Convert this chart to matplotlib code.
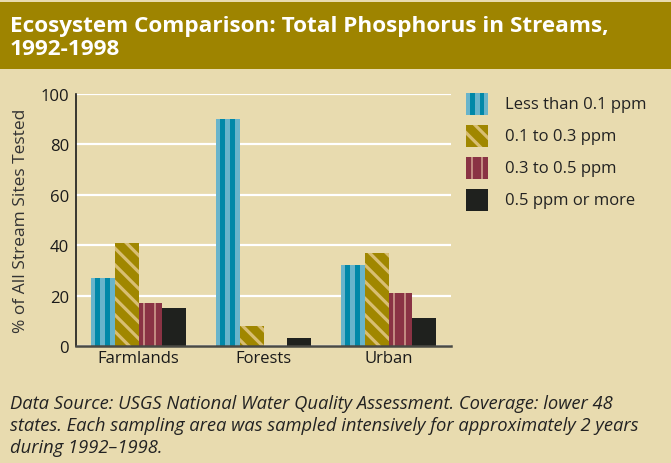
import matplotlib
matplotlib.use("Agg")
import matplotlib.pyplot as plt
import numpy as np
from matplotlib.patches import Rectangle

# data
categories = ["Farmlands", "Forests", "Urban"]
series_names = ["Less than 0.1 ppm", "0.1 to 0.3 ppm", "0.3 to 0.5 ppm", "0.5 ppm or more"]
less_01 = [27, 90, 32]
from_01_to_03 = [41, 8, 37]
from_03_to_05 = [17, 0, 21]
over_05 = [15, 3, 11]
y_ticks = [0, 20, 40, 60, 80, 100]

BG = "#E8DBAF"
BAR_OLIVE = "#A08700"
TITLE_BAR = "#9E8400"
HATCH_LIGHT = "#D8BE72"
TEAL_LIGHT = "#68B4CB"
TEAL_DARK = "#0088A8"
RED = "#8A3344"
RED_STRIPE = "#C28A80"
BLACK = "#1F211E"

plt.rcParams["font.family"] = ["Open Sans", "DejaVu Sans"]
plt.rcParams["hatch.linewidth"] = 2.3

fig = plt.figure(figsize=(6.71, 4.64), dpi=100)
fig.patch.set_facecolor(BG)

# title band
fig.patches.append(Rectangle((0, 1 - 70 / 464), 1, 67 / 464, transform=fig.transFigure,
                             facecolor=TITLE_BAR, edgecolor="none", zorder=0))
fig.text(10 / 671, 1 - 38 / 464, "Ecosystem Comparison: Total Phosphorus in Streams,\n1992-1998",
         color="white", fontsize=16.2, fontweight="bold", va="center", ha="left",
         linespacing=1.18)

ax = fig.add_axes([76 / 671, 1 - 347 / 464, 375 / 671, 252 / 464])
ax.set_facecolor(BG)

x = np.arange(len(categories))
w = 0.19
offsets = [-1.5 * w, -0.5 * w, 0.5 * w, 1.5 * w]

# blue: light bar with two dark vertical stripes
ax.bar(x + offsets[0], less_01, w, color=TEAL_LIGHT, linewidth=0, zorder=3)
for s in (-0.24, 0.2):
    ax.bar(x + offsets[0] + s * w, less_01, 0.2 * w, color=TEAL_DARK, linewidth=0, zorder=4)

# olive: diagonal light hatch
ax.bar(x + offsets[1], from_01_to_03, w, facecolor=BAR_OLIVE, edgecolor=HATCH_LIGHT,
       hatch="\\\\", linewidth=0, zorder=3)

# red: dark bar with thin light stripes
ax.bar(x + offsets[2], from_03_to_05, w, color=RED, linewidth=0, zorder=3)
for s in (-0.27, 0.21):
    ax.bar(x + offsets[2] + s * w, from_03_to_05, 0.09 * w, color=RED_STRIPE, linewidth=0, zorder=4)

ax.bar(x + offsets[3], over_05, w, color=BLACK, linewidth=0, zorder=3)

ax.set_xlim(-0.5, 2.5)
ax.set_ylim(0, 100)
ax.set_yticks(y_ticks)
ax.set_xticks(x)
ax.set_xticklabels(categories)
ax.tick_params(axis="both", length=0, labelsize=12, colors="#1a1a1a")
ax.tick_params(axis="x", pad=3)
ax.tick_params(axis="y", pad=5)
ax.yaxis.grid(True, color="white", linewidth=1.6, zorder=1)
ax.set_axisbelow(True)
for side in ("top", "right"):
    ax.spines[side].set_visible(False)
ax.spines["left"].set_color("#1a1a1a")
ax.spines["left"].set_linewidth(1.2)
ax.spines["bottom"].set_color("#4a4a44")
ax.spines["bottom"].set_linewidth(1.8)
ax.spines["bottom"].set_zorder(5)
ax.set_ylabel("% of All Stream Sites Tested", fontsize=12.5, color="#333333", labelpad=8)

# legend built by hand in figure coords
leg_y = [105, 137, 169, 201]
leg_colors = [TEAL_LIGHT, BAR_OLIVE, RED, BLACK]
for i, name in enumerate(series_names):
    y0 = 1 - (leg_y[i] + 11) / 464
    x0 = 466 / 671
    bw, bh = 22 / 671, 22 / 464
    if i == 1:
        fig.patches.append(Rectangle((x0, y0), bw, bh, transform=fig.transFigure,
                                     facecolor=BAR_OLIVE, edgecolor=HATCH_LIGHT, hatch="\\\\",
                                     linewidth=0))
    else:
        fig.patches.append(Rectangle((x0, y0), bw, bh, transform=fig.transFigure,
                                     facecolor=leg_colors[i], edgecolor="none"))
    if i == 0:
        for s in (0.2, 0.62):
            fig.patches.append(Rectangle((x0 + s * bw, y0), 0.2 * bw, bh, transform=fig.transFigure,
                                         facecolor=TEAL_DARK, edgecolor="none"))
    if i == 2:
        for s in (0.22, 0.66):
            fig.patches.append(Rectangle((x0 + s * bw, y0), 0.1 * bw, bh, transform=fig.transFigure,
                                         facecolor=RED_STRIPE, edgecolor="none"))
    fig.text(505 / 671, 1 - leg_y[i] / 464, name, fontsize=12, color="#222222",
             va="center", ha="left")

fig.text(10 / 671, 1 - 426 / 464,
         "Data Source: USGS National Water Quality Assessment. Coverage: lower 48\n"
         "states. Each sampling area was sampled intensively for approximately 2 years\n"
         "during 1992\u20131998.",
         fontsize=13.2, style="italic", color="#222222", va="center", ha="left", linespacing=1.32)

fig.savefig("out.png", dpi=100, facecolor=BG)
